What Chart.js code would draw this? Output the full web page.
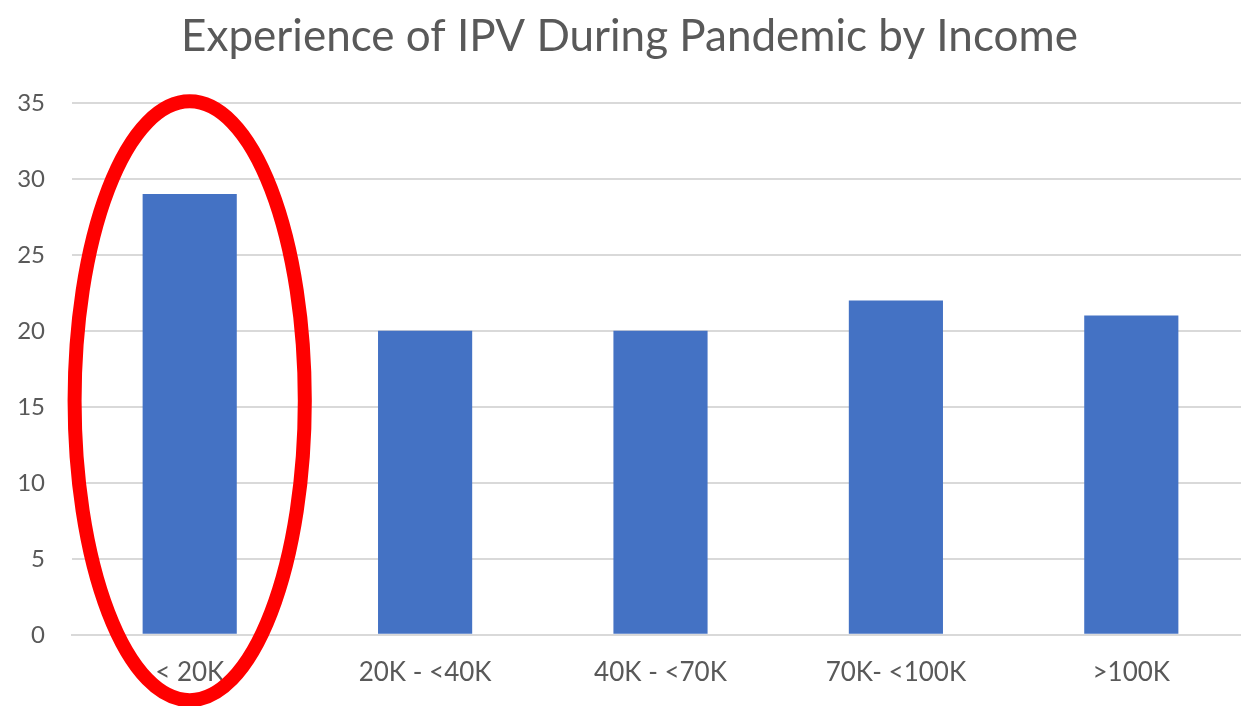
<!DOCTYPE html>
<html>
<head>
<meta charset="utf-8">
<script src="https://cdn.jsdelivr.net/npm/chart.js@4.4.0/dist/chart.umd.min.js"></script>
<style>
  html, body { margin: 0; padding: 0; background: #fff; overflow: hidden; }
  #wrap { width: 1272px; height: 706px; }
</style>
</head>
<body>
<div id="wrap"><canvas id="ipv-chart"></canvas></div>
<script>
// Chart data
const incomeGroups = ['< 20K', '20K - <40K', '40K - <70K', '70K- <100K', '>100K'];
const ipvValues = [29, 20, 20, 22, 21];
const yTicks = [0, 5, 10, 15, 20, 25, 30, 35];

// Red ring drawn around the first category
const highlightRing = {
    id: 'highlightRing',
    afterDatasetsDraw(chart) {
        const x = chart.scales.x;
        const y = chart.scales.y;
        const cx = x.getPixelForValue(0);
        const step = x.getPixelForValue(1) - cx;
        const cy = y.getPixelForValue(15.4);
        const ry = y.getPixelForValue(0) - y.getPixelForValue(19.7);
        const ctx = chart.ctx;
        ctx.save();
        ctx.beginPath();
        ctx.ellipse(cx, cy, step * 0.489, ry, 0, 0, Math.PI * 2);
        ctx.lineWidth = 14;
        ctx.strokeStyle = '#ff0000';
        ctx.stroke();
        ctx.restore();
    }
};

const ctx = document.getElementById('ipv-chart').getContext('2d');
new Chart(ctx, {
    type: 'bar',
    data: {
        labels: incomeGroups,
        datasets: [{
            data: ipvValues,
            backgroundColor: '#4472c4',
            barPercentage: 0.4,
            categoryPercentage: 1.0
        }]
    },
    options: {
        responsive: true,
        maintainAspectRatio: false,
        animation: false,
        layout: { padding: { left: 10, right: 23, bottom: -4 } },
        plugins: {
            legend: { display: false },
            tooltip: { enabled: false },
            title: {
                display: true,
                text: 'Experience of IPV During Pandemic by Income',
                color: '#595959',
                font: { family: 'Lato', size: 44, weight: 'normal' },
                padding: { top: 10, bottom: 40 }
            }
        },
        scales: {
            x: {
                grid: { display: false, drawTicks: false },
                border: { display: true, color: '#d9d9d9', width: 2 },
                ticks: {
                    color: '#595959',
                    font: { family: 'Lato', size: 26 },
                    padding: 22,
                    maxRotation: 0
                }
            },
            y: {
                min: 0,
                max: 35,
                afterBuildTicks(scale) {
                    scale.ticks = yTicks.map(v => ({ value: v }));
                },
                afterFit(scale) {
                    scale.width = 62;
                },
                grid: { color: '#d9d9d9', lineWidth: 2, drawTicks: false },
                border: { display: false },
                ticks: {
                    color: '#595959',
                    font: { family: 'Lato', size: 24 },
                    padding: 27
                }
            }
        }
    },
    plugins: [highlightRing]
});
</script>
</body>
</html>
